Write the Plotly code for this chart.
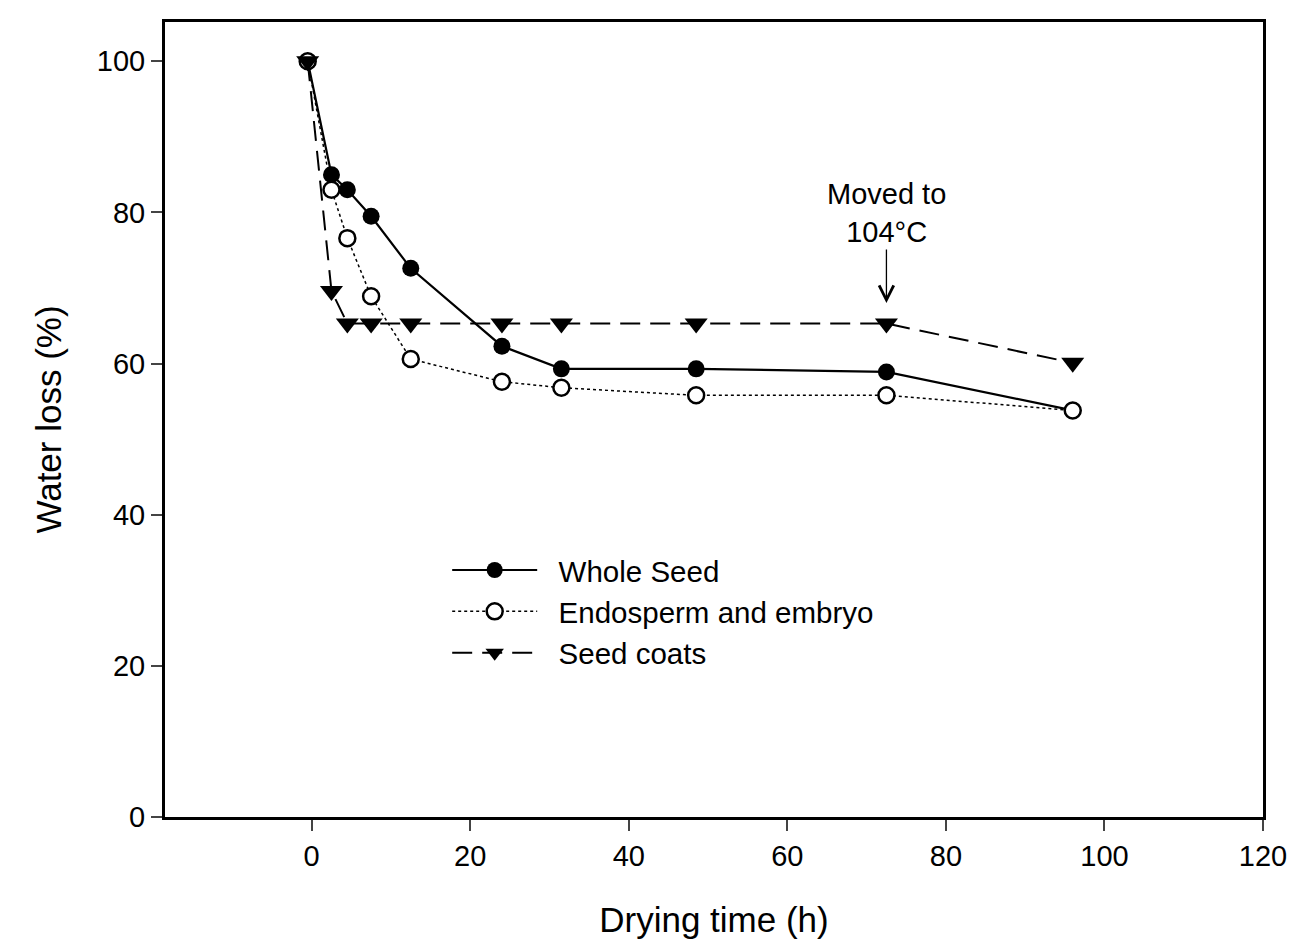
import plotly.graph_objects as go

time_h = [-0.5, 2.5, 4.5, 7.5, 12.5, 24, 31.5, 48.5, 72.5, 96]
whole_seed = [100, 85, 83, 79.5, 72.6, 62.3, 59.3, 59.3, 58.9, 53.8]
endosperm_embryo = [100, 83, 76.6, 68.9, 60.6, 57.6, 56.8, 55.8, 55.8, 53.8]
seed_coats = [100, 69.6, 65.3, 65.3, 65.3, 65.3, 65.3, 65.3, 65.3, 60.1]

x_ticks = [0, 20, 40, 60, 80, 100, 120]
y_ticks = [0, 20, 40, 60, 80, 100]

FONT = "Liberation Sans, Arial, sans-serif"
PAD = "\u00a0\u00a0"

fig = go.Figure()
fig.add_trace(go.Scatter(
    x=time_h, y=whole_seed, name=PAD + "Whole Seed", mode="lines+markers",
    line=dict(color="black", width=2.2),
    marker=dict(symbol="circle", size=17, color="black"),
    legendrank=1,
))
fig.add_trace(go.Scatter(
    x=time_h, y=endosperm_embryo, name=PAD + "Endosperm and embryo", mode="lines+markers",
    line=dict(color="black", width=1.5, dash="dot"),
    marker=dict(symbol="circle", size=16, color="white", line=dict(color="black", width=2.5)),
    legendrank=2,
))
fig.add_trace(go.Scatter(
    x=time_h, y=seed_coats, name=PAD + "Seed coats", mode="lines+markers",
    line=dict(color="black", width=2, dash="20px,10px"),
    marker=dict(symbol="triangle-down", size=20, color="black"),
    legendrank=3,
))

fig.add_annotation(
    x=72.5, y=68.0, xref="x", yref="y",
    text="Moved to<br>104°C", showarrow=True,
    arrowhead=5, arrowsize=2.2, arrowwidth=1.3, arrowcolor="black",
    ax=0, ay=-90, font=dict(family=FONT, size=29, color="black"),
)

fig.update_layout(
    width=1300, height=940,
    margin=dict(l=157, r=45, t=14, b=131, autoexpand=False),
    plot_bgcolor="white", paper_bgcolor="white",
    font=dict(family=FONT, color="black"),
    showlegend=True,
    legend=dict(
        x=0.257, y=0.343, xanchor="left", yanchor="top",
        font=dict(family=FONT, size=29.5, color="black"),
        traceorder="normal", itemwidth=85, bgcolor="rgba(0,0,0,0)",
        tracegroupgap=0,
    ),
    xaxis=dict(
        range=[-18.5, 120], tickvals=x_ticks, ticks="outside", ticklen=11, tickwidth=2,
        showline=True, linewidth=3, linecolor="black", mirror=True, showgrid=False,
        zeroline=False, tickfont=dict(size=29), automargin=False,
        title=dict(text="Drying time (h)", font=dict(size=35), standoff=37),
    ),
    yaxis=dict(
        range=[0, 105.2], tickvals=y_ticks, ticks="outside", ticklen=11, tickwidth=2,
        showline=True, linewidth=3, linecolor="black", mirror=True, showgrid=False,
        zeroline=False, tickfont=dict(size=29), automargin=False,
        title=dict(text="Water loss (%)", font=dict(size=35), standoff=25),
    ),
)

fig.write_html("out.html")
